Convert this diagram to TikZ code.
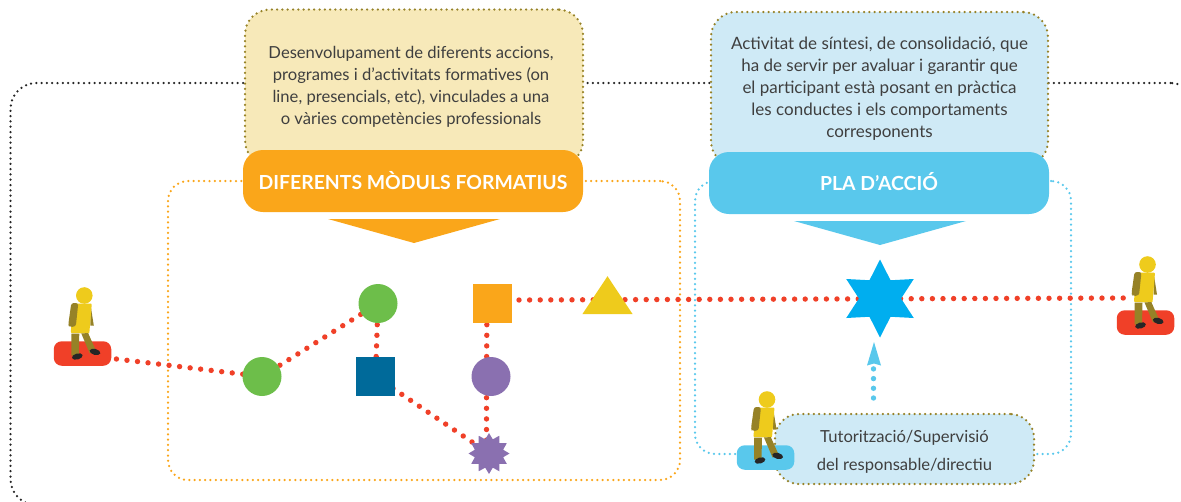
\documentclass[tikz,border=0pt]{standalone}
\usepackage{fontspec}
\setmainfont{Lato}
\usetikzlibrary{shapes.geometric,backgrounds}
\definecolor{cRed}{HTML}{F04028}
\definecolor{cOrange}{HTML}{FAA61A}
\definecolor{cSky}{HTML}{59C8EC}
\definecolor{cPale}{HTML}{CFEAF6}
\definecolor{cBeige}{HTML}{F7E9B9}
\definecolor{cOlive}{HTML}{968227}
\definecolor{cYellow}{HTML}{EECB1C}
\definecolor{cGreen}{HTML}{6DBE4A}
\definecolor{cNavy}{HTML}{006A9A}
\definecolor{cPurple}{HTML}{8A70B0}
\definecolor{cStar}{HTML}{00AEEF}
\definecolor{cText}{HTML}{3F3F3F}
\tikzset{
  x=1pt,y=-1pt,
  reddots/.style={draw=cRed,line width=5.4pt,line cap=round,dash pattern=on 0pt off 10.6pt},
  skydots/.style={draw=cSky,line width=5.4pt,line cap=round,dash pattern=on 0pt off 9.7pt},
  framedots/.style={line width=2.5pt,line cap=round,dash pattern=on 0pt off 5.3pt},
  frame/.style={rectangle,rounded corners=#1,framedots,inner sep=0pt,outer sep=0pt},
  header/.style={rectangle,rounded corners=20pt,inner sep=0pt,text=white,font=\fontsize{19.4}{22}\selectfont\bfseries},
  notebox/.style={rectangle,rounded corners=25pt,inner sep=0pt,framedots,draw=cOlive,text=cText,align=center},
  base/.style={rectangle,rounded corners=8pt,minimum width=57.5pt,minimum height=24.5pt,inner sep=0pt},
  shapenode/.style={inner sep=0pt,outer sep=0pt},
  disc/.style={shapenode,circle,minimum size=39pt},
  block/.style={shapenode,rectangle,minimum size=39pt},
  person/.pic={
    \fill[cOlive] (6,8) -- (9.5,30) -- (6,30) -- cycle;
    \fill[cYellow,rounded corners=1pt] (-11,8) -- (7.5,8) -- (5,38) -- (-13.6,37.5) -- cycle;
    \fill[cOlive,rounded corners=2.5pt] (-16,29) -- (-13,7.5) -- (-6,7.5) -- (-8.5,31) -- (-15,31.5) -- cycle;
    \fill[cOlive] (-12.8,38) -- (-5,38) -- (-5.5,60) -- (-13,60) -- cycle;
    \fill[cOlive] (-3,38) -- (3.8,37.5) -- (12,56) -- (5.5,58) -- cycle;
    \fill[black!85,rotate around={15:(-7,61)}] (-7,61) ellipse [x radius=5.5pt,y radius=3pt];
    \fill[black!85,rotate around={-15:(10.7,56.4)}] (10.7,56.4) ellipse [x radius=5.5pt,y radius=3pt];
    \fill[cYellow] (0,0) circle [radius=8.3pt];
  }
}
\begin{document}
\begin{tikzpicture}
\useasboundingbox (0,0) rectangle (1181,501);
% shapes
\node[disc,fill=cGreen] (g1) at (262,376.5) {};
\node[disc,fill=cGreen] (g2) at (378,303.5) {};
\node[block,fill=cNavy] (sq) at (375.5,376.5) {};
\node[block,fill=cOrange] (os) at (492.5,303.5) {};
\node[disc,fill=cPurple] (pc) at (491,376.5) {};
\node[shapenode,star,star points=12,star point ratio=1.4,fill=cPurple,minimum size=41pt] (ps) at (489,453.5) {};
\node[shapenode,isosceles triangle,isosceles triangle apex angle=67,shape border rotate=90,fill=cYellow,minimum height=38pt] (tr) at (607.5,300.7) {};
\node[shapenode,star,star points=6,star point ratio=1.85,fill=cStar,minimum size=78pt] (hs) at (880,298.5) {};
\node[base,fill=cRed] (b1) at (82.5,353.5) {};
\node[base,fill=cRed] (b3) at (1145.5,322.5) {};
% notes and headers
\node[notebox,fill=cBeige,minimum width=338pt,minimum height=156pt,font=\fontsize{16.6}{22}\selectfont] (n1) at (414,87.5)
 {\begin{tabular}{@{}c@{\hspace{6pt}}}Desenvolupament de diferents accions,\\programes i d’activitats formatives (on\\line, presencials, etc), vinculades a una\\o vàries competències professionals\end{tabular}};
\node[header,fill=cOrange,minimum width=340pt,minimum height=62pt] (h1) at (413,181) {\raisebox{2pt}{DIFERENTS MÒDULS FORMATIUS}};
\fill[cOrange] (328,219) -- (500,219) -- (414,243) -- cycle;
\node[notebox,fill=cPale,minimum width=337pt,minimum height=154pt,font=\fontsize{17}{22}\selectfont] (n2) at (879.5,89)
 {Activitat de síntesi, de consolidació, que\\ha de servir per avaluar i garantir que\\el participant està posant en pràctica\\les conductes i els comportaments\\corresponents};
\node[header,fill=cSky,minimum width=340pt,minimum height=62pt] (h2) at (879,183) {\raisebox{2.5pt}{PLA D’ACCIÓ}};
\fill[cSky] (794,221) -- (966,221) -- (880,245) -- cycle;
\node[notebox,rounded corners=24pt,fill=cPale,minimum width=259pt,minimum height=70pt,font=\fontsize{16.6}{28}\selectfont] (tu) at (904.5,449)
 {\rule{0pt}{18pt}Tutorització/Supervisió\\del responsable/directiu};
\node[base,fill=cSky] (b2) at (765.5,457.5) {};
% arrow
\coordinate (tip) at (874,342);
\fill[cSky] (tip) -- (881,365.5) -- (874,363.5) -- (867,365.5) -- cycle;
\coordinate (as) at (873.5,368);
\coordinate (ae) at (873.5,398);
\draw[skydots] (ae) -- (as);
% persons
\pic at (84.3,295.5) {person};
\pic at (767,399.5) {person};
\pic at (1147.5,264.5) {person};
\begin{scope}[on background layer]
  \node[frame=26pt,draw=black!85,minimum width=1186pt,minimum height=422pt,anchor=north west] (outer) at (10.5,83) {};
  \node[frame=20pt,draw=cOrange,minimum width=512pt,minimum height=299pt,anchor=north west] (fo) at (168,181) {};
  \node[frame=20pt,draw=cSky,minimum width=376pt,minimum height=273pt,anchor=north west] (fs) at (695,181) {};
  \coordinate (r0) at ([shift={(5,5.5)}]b1.east);
  \coordinate (r1) at ([shift={(7,-3.5)}]os.east);
  \coordinate (r2) at ([shift={(10.7,-24.5)}]b3.west);
  \coordinate (p0) at ([xshift=-5.5pt]os.center);
  \coordinate (p1) at ([xshift=-4.5pt]pc.center);
  \coordinate (p2) at ([xshift=-2.5pt]ps.center);
  \draw[reddots] (r0) -- (g1.center);
  \draw[reddots] (g1.center) -- (g2.center);
  \draw[reddots] (g2.center) -- (sq.center);
  \draw[reddots] (sq.center) -- (ps.center);
  \draw[reddots] (p0) -- (p1);
  \draw[reddots] (p1) -- (p2);
  \draw[reddots] (r1) -- (r2);
\end{scope}
\end{tikzpicture}
\end{document}
